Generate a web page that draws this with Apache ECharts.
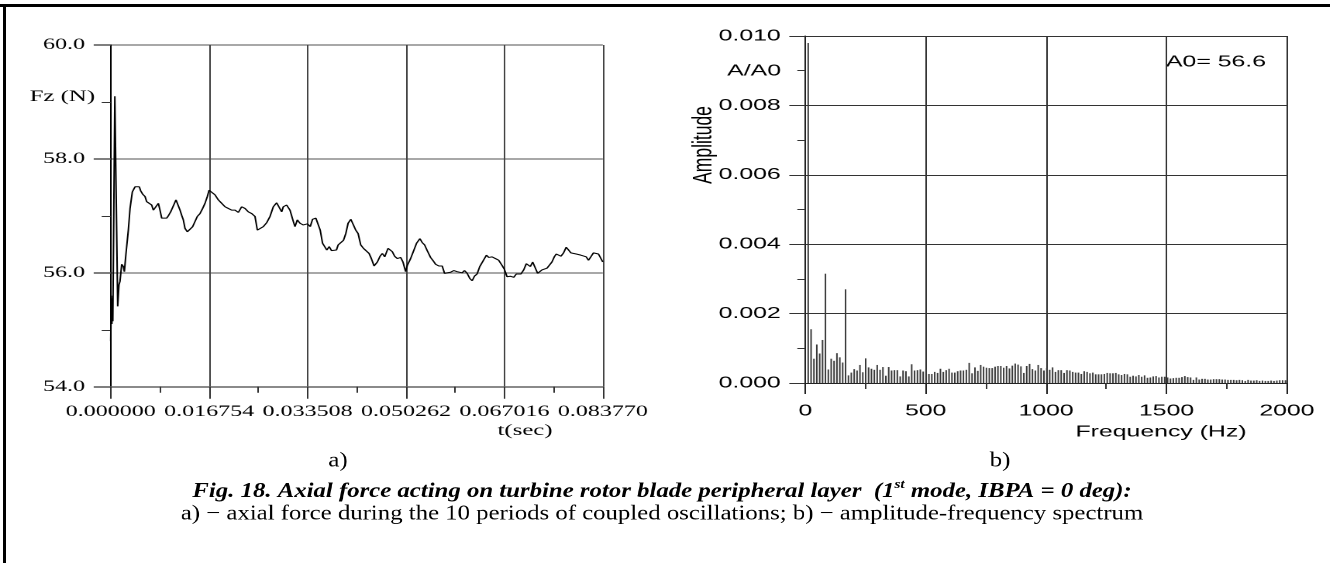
<!DOCTYPE html>
<html><head><meta charset="utf-8">
<script src="https://cdn.jsdelivr.net/npm/echarts@6/dist/echarts.min.js"></script>
<style>
html,body{margin:0;padding:0;background:#fff;width:1330px;height:563px;overflow:hidden;}
#stage{position:absolute;left:0;top:0;height:563px;transform-origin:0 0;}
#cap{position:absolute;left:0;top:0;height:563px;pointer-events:none;transform-origin:0 0;}
#frameTop{position:absolute;left:0;top:4px;width:1330px;height:3px;background:#000;}
#frameLeft{position:absolute;left:3px;top:4px;width:3px;height:559px;background:#000;}
</style></head><body>
<div id="stage"></div>
<div id="cap"></div>
<div id="frameTop"></div><div id="frameLeft"></div>
<script>
// ---------- data: a) axial force vs time ----------
const TIME_MS = [
 0.00,0.10,0.20,0.28,0.36,0.70,1.19,1.41,1.58,1.87,
 2.15,2.32,2.60,3.00,3.29,3.68,4.14,4.53,4.87,5.10,
 5.44,5.84,6.12,6.58,6.97,7.26,7.71,8.11,8.39,8.68,
 9.07,9.53,9.81,10.21,10.66,11.11,11.51,11.80,12.08,12.36,
 12.65,13.04,13.50,13.95,14.35,14.75,15.20,15.65,16.05,16.45,
 16.74,17.19,17.75,18.32,18.89,19.46,20.02,20.59,21.16,21.73,
 22.29,22.86,23.43,24.00,24.56,24.96,25.41,25.98,26.55,27.12,
 27.68,28.25,28.71,29.10,29.38,29.95,30.52,31.09,31.37,31.77,
 32.22,32.79,
 33.51,33.96,34.36,34.92,35.32,35.66,36.06,36.45,36.79,37.19,
 37.58,38.04,38.43,38.72,39.17,39.62,40.02,40.41,40.87,41.32,
 41.71,42.11,42.56,43.02,43.41,43.98,44.37,44.83,45.39,45.85,
 46.24,46.64,47.21,47.54,47.94,48.34,48.79,49.36,49.75,50.20,
 50.49,51.05,51.62,52.07,52.64,53.03,53.43,53.88,54.45,54.90,
 55.30,55.86,56.43,56.83,57.28,57.85,58.41,58.98,59.43,59.83,
 60.22,60.68,61.13,61.53,61.92,62.37,62.83,63.22,63.62,63.96,
 64.35,64.92,65.49,66.05,66.62,67.02,67.47,68.03,68.60,69.05,
 69.45,69.84,70.30,70.75,71.15,71.43,71.83,72.28,72.68,73.01,
 73.41,73.81,74.26,74.71,75.11,75.51,75.85,76.24,76.64,77.09,
 77.54,77.94,78.34,78.79,79.24,79.64,80.03,80.49,80.94,81.33,
 81.73,82.18,82.64,83.03,83.43,83.77
];
const FORCE_N = [
 54.80,55.60,55.10,55.55,55.15,59.10,55.41,55.79,55.85,56.15,
 56.11,56.02,56.34,56.75,57.13,57.42,57.51,57.52,57.51,57.44,
 57.38,57.34,57.25,57.22,57.19,57.10,57.13,57.22,57.10,56.96,
 56.99,56.96,57.00,57.07,57.10,57.28,57.25,57.10,57.01,56.93,
 56.78,56.72,56.75,56.81,56.90,56.99,57.04,57.13,57.22,57.34,
 57.45,57.44,57.37,57.28,57.22,57.16,57.13,57.10,57.10,57.06,
 57.16,57.13,57.07,57.04,56.99,56.75,56.75,56.81,56.88,56.99,
 57.16,57.23,57.22,57.07,57.16,57.19,57.10,56.90,56.81,56.93,
 56.87,56.84,
 56.86,56.81,56.94,56.96,56.93,56.75,56.52,56.53,56.40,56.46,
 56.39,56.39,56.40,56.49,56.52,56.57,56.69,56.87,56.94,56.84,
 56.75,56.69,56.49,56.43,56.46,56.34,56.25,56.12,56.19,56.29,
 56.34,56.28,56.43,56.45,56.37,56.29,56.25,56.27,56.19,56.02,
 56.13,56.25,56.40,56.52,56.60,56.53,56.49,56.39,56.27,56.21,
 56.15,56.12,56.12,55.99,56.02,56.01,56.04,56.02,56.05,56.00,
 56.04,55.99,55.90,55.86,55.94,55.98,56.11,56.08,56.25,56.31,
 56.27,56.28,56.25,56.22,56.13,56.06,55.93,55.94,55.92,55.98,
 56.00,55.98,56.05,56.16,56.19,56.11,56.19,56.16,55.99,55.98,
 56.05,56.05,56.08,56.11,56.19,56.28,56.33,56.33,56.29,56.35,
 56.45,56.40,56.35,56.35,56.33,56.35,56.31,56.34,56.28,56.22,
 56.28,56.35,56.37,56.33,56.33,56.19
];
const T_TICK_LABELS = ['0.000000','0.016754','0.033508','0.050262','0.067016','0.083770'];
const F_TICK_LABELS = ['54.0','56.0','58.0','60.0'];

// ---------- data: b) amplitude spectrum (bins 1..167, bin step in Hz) ----------
const FREQ_STEP_HZ = 11.94;
const AMPLITUDE = [
 0.0098,0.00155,0.0007,0.00111,0.00085,0.00124,0.00315,0.00039,0.0007,0.00064,
 0.00086,0.00074,0.00059,0.0027,0.00022,0.0003,0.0004,0.00036,0.00052,0.00031,
 0.00071,0.00045,0.00041,0.00038,0.00052,0.00038,0.00046,0.00021,0.00046,0.00036,
 0.00037,0.00037,0.00019,0.00036,0.00034,0.00019,0.00054,0.00036,0.00037,0.00039,
 0.00033,0.0004,0.00026,0.00026,0.00032,0.00029,0.00041,0.00032,0.00037,0.00041,
 0.0003,0.0003,0.00034,0.00036,0.00036,0.00038,0.00058,0.00028,0.00045,0.00035,
 0.00052,0.00047,0.00044,0.00043,0.00043,0.00047,0.00049,0.00049,0.00044,0.00049,
 0.00042,0.0005,0.00056,0.00053,0.00048,0.00029,0.00049,0.00055,0.0004,0.00036,
 0.00052,0.00043,0.00036,0.00043,0.00038,0.00045,0.00032,0.00037,0.00037,0.00029,
 0.00037,0.00036,0.00032,0.0003,0.0003,0.00026,0.00034,0.00032,0.00028,0.0003,
 0.00025,0.00025,0.00025,0.00026,0.00029,0.00028,0.00028,0.00029,0.00025,0.00023,
 0.00026,0.00025,0.00018,0.00021,0.00019,0.00023,0.00018,0.00022,0.00015,0.00016,
 0.00019,0.0002,0.00016,0.00018,0.00018,0.00016,0.00013,0.00014,0.00015,0.00015,
 0.00017,0.0002,0.00017,0.00016,0.00009,0.00016,0.0001,0.00012,0.00012,0.0001,
 0.0001,0.00011,0.00011,0.00011,0.0001,0.0001,0.00009,0.00009,0.00009,0.00008,
 0.00009,0.00008,0.00006,0.00009,0.00007,0.00007,0.00008,0.00006,0.00007,0.00006,
 0.00006,0.00007,0.00006,0.00007,0.00008,0.00008,0.00008
];
const FREQ_TICK_LABELS = ['0','500','1000','1500','2000'];
const AMP_TICK_LABELS = ['0.000','0.002','0.004','0.006','0.008','0.010'];

// ---------- layout: chart panels stretched by K, document text by KC ----------
const K = 1.55, KC = 1.18;
const sx = v => v / K;
const cx = v => v / KC;
const SERIF = "'Liberation Serif','Times New Roman',serif";
const SANS = "'Liberation Sans',Arial,sans-serif";

const stage = document.getElementById('stage');
stage.style.width = (1330 / K) + 'px';
stage.style.transform = 'scaleX(' + K + ')';
const capEl = document.getElementById('cap');
capEl.style.width = (1330 / KC) + 'px';
capEl.style.transform = 'scaleX(' + KC + ')';

const chart = echarts.init(stage, null, {renderer: 'canvas', devicePixelRatio: 2});
const cap = echarts.init(capEl, null, {renderer: 'canvas', devicePixelRatio: 2});

const forceData = [];
for (let i = 0; i < Math.min(TIME_MS.length, FORCE_N.length); i++) forceData.push([TIME_MS[i], FORCE_N[i]]);
const specData = AMPLITUDE.map((a, i) => [(i + 1) * FREQ_STEP_HZ, a]);

function txt(x, y, text, font, align) {
  return {
    type: 'text', x: x, y: y, silent: true,
    style: {text: text, fill: '#000', align: align || 'center', verticalAlign: 'middle',
      fontFamily: font.family, fontSize: font.size, fontWeight: font.weight || 'normal', fontStyle: font.style || 'normal'}
  };
}

chart.setOption({
  animation: false,
  backgroundColor: '#fff',
  grid: [
    {left: sx(110.7), top: 45, width: sx(492.1), height: 341.7, containLabel: false},
    {left: sx(805.3), top: 36, width: sx(481.6), height: 347, containLabel: false}
  ],
  xAxis: [
    {
      gridIndex: 0, type: 'value', min: 0, max: 83.77, interval: 16.754,
      axisLine: {show: true, onZero: false, lineStyle: {color: '#777', width: 1.5}},
      axisTick: {show: true, length: 12, lineStyle: {color: '#333', width: 1}},
      minorTick: {show: true, splitNumber: 2, length: 6, lineStyle: {color: '#333', width: 1}},
      axisLabel: {margin: 17, color: '#000', fontFamily: SERIF, fontSize: 15.5,
        formatter: v => T_TICK_LABELS[Math.round(v / 16.754)]},
      splitLine: {show: true, lineStyle: {color: '#444', width: 1}}
    },
    {
      gridIndex: 1, type: 'value', min: 0, max: 2000, interval: 500,
      axisLine: {show: true, onZero: false, lineStyle: {color: '#222', width: 1}},
      axisTick: {show: true, length: 11, lineStyle: {color: '#222', width: 1}},
      minorTick: {show: true, splitNumber: 2, length: 6, lineStyle: {color: '#333', width: 1}},
      axisLabel: {margin: 20, color: '#000', fontFamily: SANS, fontSize: 16,
        formatter: v => FREQ_TICK_LABELS[Math.round(v / 500)]},
      splitLine: {show: true, lineStyle: {color: '#333', width: 1}}
    }
  ],
  yAxis: [
    {
      gridIndex: 0, type: 'value', min: 54, max: 60, interval: 2,
      axisLine: {show: true, onZero: false, lineStyle: {color: '#000', width: 1}},
      axisTick: {show: true, length: sx(17), lineStyle: {color: '#555', width: 1.5}},
      minorTick: {show: true, splitNumber: 2, length: sx(9), lineStyle: {color: '#333', width: 1}},
      axisLabel: {margin: sx(25.7), color: '#000', fontFamily: SERIF, fontSize: 15.5,
        formatter: v => F_TICK_LABELS[Math.round((v - 54) / 2)]},
      splitLine: {show: true, lineStyle: {color: '#8c8c8c', width: 1.5}}
    },
    {
      gridIndex: 1, type: 'value', min: 0, max: 0.01, interval: 0.002,
      axisLine: {show: true, onZero: false, lineStyle: {color: '#222', width: 1}},
      axisTick: {show: true, length: sx(16), lineStyle: {color: '#333', width: 1}},
      minorTick: {show: true, splitNumber: 2, length: sx(8), lineStyle: {color: '#333', width: 1}},
      axisLabel: {margin: sx(24.6), color: '#000', fontFamily: SANS, fontSize: 16,
        formatter: v => AMP_TICK_LABELS[Math.round(v / 0.002)]},
      splitLine: {show: true, lineStyle: {color: '#333', width: 1}}
    }
  ],
  series: [
    {
      type: 'line', xAxisIndex: 0, yAxisIndex: 0, data: forceData,
      showSymbol: false, symbol: 'none', smooth: false, silent: true,
      lineStyle: {color: '#000', width: 1}
    },
    {
      type: 'bar', xAxisIndex: 1, yAxisIndex: 1, data: specData,
      barWidth: 1, silent: true, itemStyle: {color: '#3a3a3a'}
    }
  ],
  graphic: [
    txt(sx(95), 97, 'Fz (N)', {family: SERIF, size: 16}, 'right'),
    txt(sx(525), 431, 't(sec)', {family: SERIF, size: 16}),
    txt(sx(781), 71, 'A/A0', {family: SANS, size: 16}, 'right'),
    Object.assign(txt(sx(704), 145, 'Amplitude', {family: SANS, size: 17.5}), {rotation: Math.PI / 2}),
    txt(sx(1166), 62, 'A0= 56.6', {family: SANS, size: 16}, 'left'),
    txt(sx(1161), 432, 'Frequency (Hz)', {family: SANS, size: 16})
  ]
});

// panel letters and caption
cap.setOption({
  animation: false,
  graphic: [
    txt(cx(338), 461, 'a)', {family: SERIF, size: 21}),
    txt(cx(1000), 461, 'b)', {family: SERIF, size: 21}),
    {
      type: 'text', x: cx(662), y: 490, silent: true,
      style: {
        text: '{b|Fig. 18. Axial force acting on turbine rotor blade peripheral layer  (1}{s|st}{b| mode, IBPA = 0 deg):}',
        align: 'center', verticalAlign: 'middle',
        rich: {
          b: {fontFamily: SERIF, fontSize: 21, fontWeight: 'bold', fontStyle: 'italic', fill: '#000', lineHeight: 24, verticalAlign: 'bottom'},
          s: {fontFamily: SERIF, fontSize: 13, fontWeight: 'bold', fontStyle: 'italic', fill: '#000', lineHeight: 24, verticalAlign: 'top'}
        }
      }
    },
    txt(cx(662), 514, 'a) \u2212 axial force during the 10 periods of coupled oscillations; b) \u2212 amplitude-frequency spectrum', {family: SERIF, size: 21})
  ]
});
</script>
</body></html>
